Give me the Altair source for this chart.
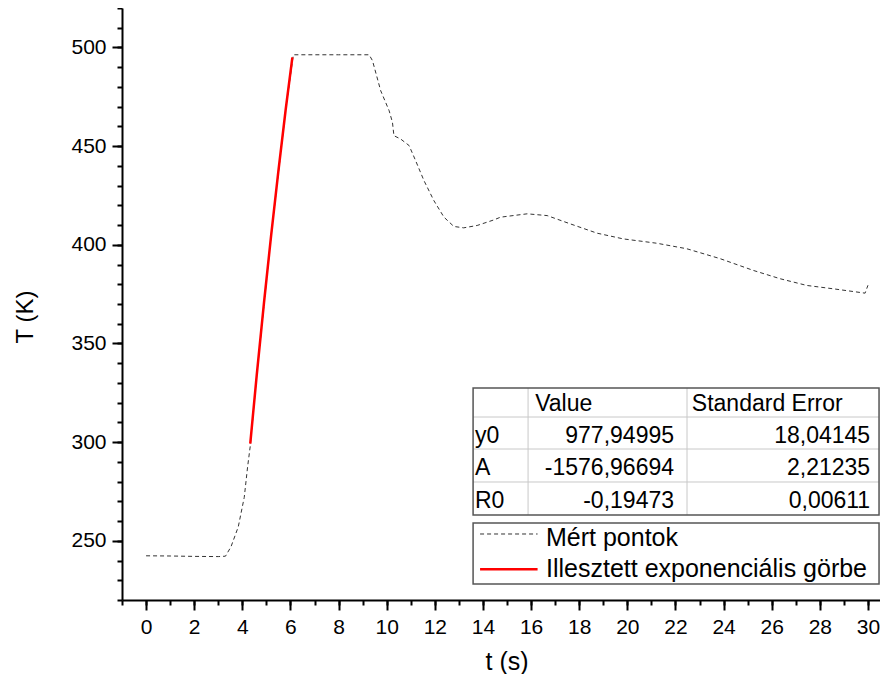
import altair as alt
import pandas as pd

# ---------------- data ----------------
t_meas = [0.0, 1.0, 2.0, 3.0, 3.3, 3.53, 3.83, 4.08, 4.22, 4.33, 4.6, 5.2, 5.8, 6.12,
          7.0, 8.0, 9.0, 9.27, 9.41, 9.75, 10.1, 10.24, 10.3, 10.58, 10.93, 11.2, 11.55,
          11.96, 12.38, 12.79, 13.2, 13.76, 14.45, 14.73, 15.84, 16.67, 17.63, 18.74,
          19.83, 21.22, 22.47, 23.85, 25.24, 26.35, 27.46, 28.56, 29.88, 30.0]
T_meas = [242.4, 242.3, 242.1, 242.0, 242.2, 247.0, 257.0, 272.0, 287.5, 298.0, 334.0,
          405.0, 468.0, 496.3, 496.3, 496.3, 496.3, 496.3, 493.3, 478.1, 468.0, 462.0,
          455.3, 453.6, 450.3, 442.7, 432.5, 422.4, 414.0, 409.3, 408.6, 409.8, 412.6,
          414.0, 415.7, 414.8, 410.6, 405.9, 403.0, 400.8, 398.0, 393.0, 387.0, 382.8,
          379.4, 377.7, 375.5, 379.5]

t_fit = [4.33, 4.6, 4.9, 5.2, 5.5, 5.8, 6.08]
T_fit = [299.3, 334.1, 370.6, 405.0, 437.5, 468.3, 495.0]

x_ticks = list(range(0, 31, 2))
x_minor = list(range(-1, 31))
y_ticks = [250, 300, 350, 400, 450, 500]
y_minor = list(range(220, 521, 10))

header = ["Value", "Standard Error"]
params = ["y0", "A", "R0"]
values = ["977,94995", "-1576,96694", "-0,19473"]
errors = ["18,04145", "2,21235", "0,00611"]
legend_labels = ["Mért pontok", "Illesztett exponenciális görbe"]

# ---------------- layout (data coordinates of the annotation boxes) ----------------
TB_X = [13.59, 15.875, 22.48, 30.46]          # table column edges
TB_Y = [327.43, 312.73, 296.52, 279.80, 263.07]  # table row edges
ROW_BASE = [316.0, 299.8, 283.1, 266.6]        # text baselines (header + 3 rows)
NAME_X, VAL_L, VAL_R, ERR_L, ERR_R = 13.67, 16.17, 21.94, 22.68, 30.09
LG_Y = [259.02, 228.11]
LG_LINE_X = [13.88, 16.27]
LG_LINE_Y = [253.45, 235.56]
LG_TEXT_X = 16.62
LG_BASE = [247.5, 231.8]

FONT = "Liberation Sans"
xs = alt.Scale(domain=[-1, 30.5], nice=False, zero=False)
ys = alt.Scale(domain=[220, 520], nice=False, zero=False)

major_x = alt.Axis(values=x_ticks, orient="bottom", title="t (s)", grid=False,
                   tickSize=10, labelPadding=6, labelFontSize=21, labelFlush=False,
                   titleFontSize=25, titleX=384.5, titleY=69, titleAlign="center",
                   titleBaseline="alphabetic")
major_y = alt.Axis(values=y_ticks, orient="left", title="T (K)", grid=False,
                   tickSize=10, labelPadding=6, labelFontSize=21, labelFlush=False,
                   titleFontSize=24, titleAngle=270, titleX=-90, titleY=308.5,
                   titleAlign="center", titleBaseline="alphabetic")
minor_x = alt.Axis(values=x_minor, orient="bottom", title=None, grid=False, labels=False,
                   domain=False, tickSize=5)
minor_y = alt.Axis(values=y_minor, orient="left", title=None, grid=False, labels=False,
                   domain=False, tickSize=5)

df_meas = pd.DataFrame({"t": t_meas, "T": T_meas})
df_fit = pd.DataFrame({"t": t_fit, "T": T_fit})

meas = alt.Chart(df_meas).mark_line(color="#333333", strokeWidth=1, strokeDash=[4, 3]).encode(
    x=alt.X("t:Q", scale=xs, axis=major_x),
    y=alt.Y("T:Q", scale=ys, axis=major_y),
)
fit = alt.Chart(df_fit).mark_line(color="#ff0000", strokeWidth=2.5).encode(
    x=alt.X("t:Q", scale=xs, axis=minor_x),
    y=alt.Y("T:Q", scale=ys, axis=minor_y),
)


def X(f):
    return alt.X(f"{f}:Q", scale=xs, axis=None)


def Y(f):
    return alt.Y(f"{f}:Q", scale=ys, axis=None)


# table background
tb_bg = alt.Chart(pd.DataFrame({"x": [TB_X[0]], "x2": [TB_X[-1]], "y": [TB_Y[0]], "y2": [TB_Y[-1]]})
                  ).mark_rect(fill="white").encode(x=X("x"), x2="x2", y=Y("y"), y2="y2")

# inner grid lines
rows_df = pd.DataFrame({"x": [TB_X[0]] * 3, "x2": [TB_X[-1]] * 3, "y": TB_Y[1:4]})
cols_df = pd.DataFrame({"x": TB_X[1:3], "y": [TB_Y[0]] * 2, "y2": [TB_Y[-1]] * 2})
tb_rows = alt.Chart(rows_df).mark_rule(color="#c8c8c8", strokeWidth=1).encode(
    x=X("x"), x2="x2", y=Y("y"))
tb_cols = alt.Chart(cols_df).mark_rule(color="#c8c8c8", strokeWidth=1).encode(
    x=X("x"), y=Y("y"), y2="y2")
tb_border = alt.Chart(pd.DataFrame({"x": [TB_X[0]], "x2": [TB_X[-1]], "y": [TB_Y[0]], "y2": [TB_Y[-1]]})
                      ).mark_rect(fillOpacity=0, stroke="#555555", strokeWidth=1.5).encode(
    x=X("x"), x2="x2", y=Y("y"), y2="y2")

left_txt = pd.DataFrame({
    "x": [VAL_L, ERR_L] + [NAME_X] * 3,
    "y": [ROW_BASE[0], ROW_BASE[0]] + ROW_BASE[1:],
    "label": header + params,
})
right_txt = pd.DataFrame({
    "x": [VAL_R] * 3 + [ERR_R] * 3,
    "y": ROW_BASE[1:] + ROW_BASE[1:],
    "label": values + errors,
})
tb_left = alt.Chart(left_txt).mark_text(align="left", baseline="alphabetic", fontSize=23,
                                        font=FONT, color="black").encode(
    x=X("x"), y=Y("y"), text="label:N")
tb_right = alt.Chart(right_txt).mark_text(align="right", baseline="alphabetic", fontSize=23,
                                          font=FONT, color="black").encode(
    x=X("x"), y=Y("y"), text="label:N")

# legend box
lg_box = alt.Chart(pd.DataFrame({"x": [TB_X[0]], "x2": [TB_X[-1]], "y": [LG_Y[0]], "y2": [LG_Y[1]]})
                   ).mark_rect(fill="white", stroke="#555555", strokeWidth=1.5).encode(
    x=X("x"), x2="x2", y=Y("y"), y2="y2")
lg_dash = alt.Chart(pd.DataFrame({"x": [LG_LINE_X[0]], "x2": [LG_LINE_X[1]], "y": [LG_LINE_Y[0]]})
                    ).mark_rule(color="#333333", strokeWidth=1, strokeDash=[4, 3]).encode(
    x=X("x"), x2="x2", y=Y("y"))
lg_red = alt.Chart(pd.DataFrame({"x": [LG_LINE_X[0]], "x2": [LG_LINE_X[1]], "y": [LG_LINE_Y[1]]})
                   ).mark_rule(color="#ff0000", strokeWidth=2.5).encode(
    x=X("x"), x2="x2", y=Y("y"))
lg_text = alt.Chart(pd.DataFrame({"x": [LG_TEXT_X] * 2, "y": LG_BASE, "label": legend_labels})
                    ).mark_text(align="left", baseline="alphabetic", fontSize=25, font=FONT,
                                color="black").encode(x=X("x"), y=Y("y"), text="label:N")

chart = alt.layer(
    meas, fit, tb_bg, tb_rows, tb_cols, tb_border, tb_left, tb_right,
    lg_box, lg_dash, lg_red, lg_text,
).resolve_axis(x="independent", y="independent").properties(
    width=758, height=592,
    autosize=alt.AutoSizeParams(type="none"),
    padding={"left": 114, "top": 0, "right": 0, "bottom": 74},
).configure_view(stroke=None).configure_axis(
    labelFont=FONT, titleFont=FONT, labelColor="black", titleColor="black",
    domainColor="black", tickColor="black", domainWidth=2, tickWidth=2,
    titleFontWeight="normal",
)

chart.save("out.html", embed_options={"renderer": "svg", "actions": False})
